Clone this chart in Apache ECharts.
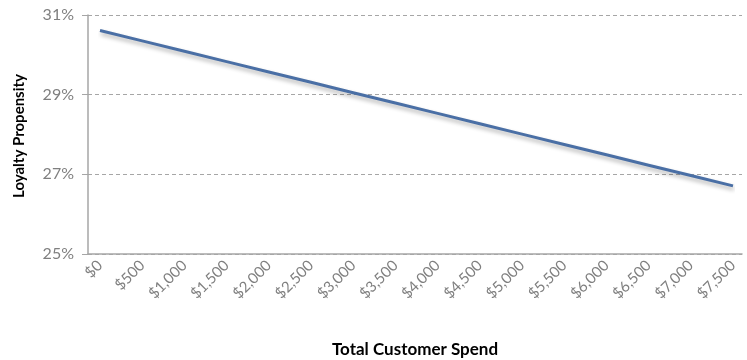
<!DOCTYPE html>
<html>
<head>
<meta charset="utf-8">
<script src="https://cdn.jsdelivr.net/npm/echarts@6/dist/echarts.min.js"></script>
<style>html,body{margin:0;padding:0;background:#fff}#c{width:747px;height:360px}</style>
</head>
<body>
<div id="c"></div>
<script>
var categories = ['$0','$500','$1,000','$1,500','$2,000','$2,500','$3,000','$3,500','$4,000','$4,500','$5,000','$5,500','$6,000','$6,500','$7,000','$7,500'];
var loyalty = [30.61, 30.35, 30.09, 29.83, 29.57, 29.31, 29.05, 28.79, 28.53, 28.27, 28.01, 27.75, 27.49, 27.23, 26.97, 26.71];
var yTicks = { min: 25, max: 31, interval: 2 };
var xTitle = 'Total Customer Spend';
var yTitle = 'Loyalty Propensity';

var FONT = 'Lato';
var chart = echarts.init(document.getElementById('c'));
chart.setOption({
  animation: false,
  backgroundColor: '#fff',
  textStyle: { fontFamily: FONT },
  grid: [
    { left: 88, right: 5, top: 15, bottom: 106 },
    { left: 100, right: 14, top: 15, bottom: 106 }
  ],
  xAxis: [
    { type: 'category', gridIndex: 0, data: categories, boundaryGap: false,
      axisLine: { show: true, lineStyle: { color: '#a6a6a6', width: 1.5 } },
      axisTick: { show: false }, axisLabel: { show: false }, splitLine: { show: false } },
    { type: 'category', gridIndex: 1, data: categories, boundaryGap: false,
      axisLine: { show: false }, axisTick: { show: false }, splitLine: { show: false },
      axisLabel: { rotate: 45, margin: 9, color: '#7f7f7f', fontSize: 15, fontFamily: FONT, interval: 0 } }
  ],
  yAxis: [
    { type: 'value', gridIndex: 0, min: yTicks.min, max: yTicks.max, interval: yTicks.interval,
      axisLine: { show: true, lineStyle: { color: '#a6a6a6', width: 1.5 } },
      axisTick: { show: true, length: 6, lineStyle: { color: '#a6a6a6' } },
      axisLabel: { formatter: '{value}%', color: '#7f7f7f', fontSize: 16, margin: 14, fontFamily: FONT },
      splitLine: { show: true, lineStyle: { color: '#a6a6a6', type: [4, 3], width: 1.2 } } },
    { type: 'value', gridIndex: 1, min: yTicks.min, max: yTicks.max, interval: yTicks.interval, show: false }
  ],
  series: [{
    type: 'line', xAxisIndex: 1, yAxisIndex: 1, data: loyalty, showSymbol: false, smooth: false,
    lineStyle: { color: '#4a6fa5', width: 3, shadowColor: 'rgba(0,0,0,0.3)', shadowBlur: 4, shadowOffsetY: 3, shadowOffsetX: 1 }
  }],
  graphic: [
    { type: 'text', x: 415, y: 350,
      style: { text: xTitle, font: 'bold 17px ' + FONT, fill: '#000', align: 'center', verticalAlign: 'middle' } },
    { type: 'text', x: 19, y: 136, rotation: Math.PI / 2,
      style: { text: yTitle, font: 'bold 15px ' + FONT, fill: '#000', align: 'center', verticalAlign: 'middle' } }
  ]
});
</script>
</body>
</html>
